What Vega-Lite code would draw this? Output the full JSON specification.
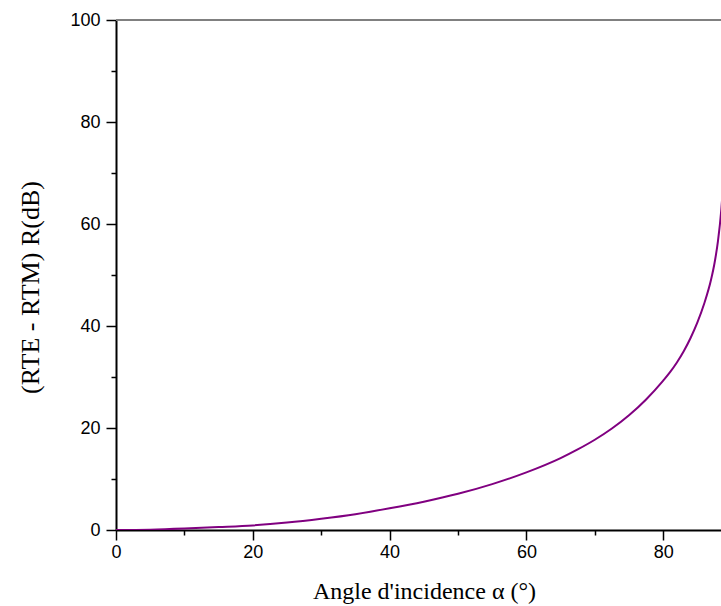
{
  "$schema": "https://vega.github.io/schema/vega-lite/v6.json",
  "autosize": "none",
  "width": 605,
  "height": 510,
  "padding": {"left": 116, "top": 20, "right": 0, "bottom": 76},
  "background": "white",
  "config": {"view": {"stroke": null}},
  "data": {"values": [
    {"angle": 0, "r": 0},
    {"angle": 5, "r": 0.07},
    {"angle": 10, "r": 0.28},
    {"angle": 15, "r": 0.57},
    {"angle": 20, "r": 0.9},
    {"angle": 25, "r": 1.45},
    {"angle": 30, "r": 2.2},
    {"angle": 35, "r": 3.1},
    {"angle": 40, "r": 4.25},
    {"angle": 45, "r": 5.55},
    {"angle": 50, "r": 7.1},
    {"angle": 55, "r": 9.0},
    {"angle": 60, "r": 11.3},
    {"angle": 65, "r": 14.1},
    {"angle": 67.5, "r": 15.8},
    {"angle": 70, "r": 17.7},
    {"angle": 72.5, "r": 19.9},
    {"angle": 75, "r": 22.5},
    {"angle": 77.5, "r": 25.6},
    {"angle": 80, "r": 29.3},
    {"angle": 81, "r": 30.95},
    {"angle": 82, "r": 32.85},
    {"angle": 83, "r": 35.05},
    {"angle": 84, "r": 37.65},
    {"angle": 85, "r": 40.7},
    {"angle": 86, "r": 44.4},
    {"angle": 87, "r": 49.1},
    {"angle": 87.5, "r": 52.3},
    {"angle": 88, "r": 56.6},
    {"angle": 88.5, "r": 62.9},
    {"angle": 89, "r": 72.9}
  ]},
  "resolve": {"axis": {"x": "independent", "y": "independent"}},
  "layer": [
    {
      "mark": {"type": "rule", "color": "#808080", "strokeWidth": 1.5},
      "encoding": {"y": {"datum": 100, "type": "quantitative", "scale": {"domain": [0, 100]}, "axis": null}}
    },
    {
      "mark": {"type": "line", "color": "#800080", "strokeWidth": 2, "clip": true, "interpolate": "monotone"},
      "encoding": {
        "x": {"field": "angle", "type": "quantitative", "scale": {"domain": [0, 88.45], "nice": false},
          "axis": {"orient": "bottom", "values": [0, 20, 40, 60, 80], "title": "Angle d'incidence α (°)",
            "grid": false, "tickSize": 10, "tickWidth": 1.5, "tickColor": "black", "domainColor": "black", "domainWidth": 2,
            "labelFont": "Liberation Sans", "labelFontSize": 18, "labelColor": "black", "labelPadding": 3, "labelFlush": false,
            "titleFont": "Liberation Serif", "titleFontSize": 24, "titleFontWeight": "normal", "titleColor": "black",
            "titleX": 308, "titleY": 68, "titleBaseline": "alphabetic", "titleAnchor": "middle"}},
        "y": {"field": "r", "type": "quantitative", "scale": {"domain": [0, 100], "nice": false},
          "axis": {"orient": "left", "values": [0, 20, 40, 60, 80, 100], "title": "(RTE - RTM) R(dB)",
            "grid": false, "tickSize": 10, "tickWidth": 1.5, "tickColor": "black", "domainColor": "black", "domainWidth": 2,
            "labelFont": "Liberation Sans", "labelFontSize": 18, "labelColor": "black", "labelPadding": 6, "labelFlush": false,
            "titleFont": "Liberation Serif", "titleFontSize": 26, "titleFontWeight": "normal", "titleColor": "black",
            "titleX": -78, "titleY": 267, "titleBaseline": "alphabetic", "titleAngle": -90, "titleAnchor": "middle"}}
      }
    },
    {
      "mark": {"type": "line", "opacity": 0},
      "encoding": {
        "x": {"field": "angle", "type": "quantitative",
          "axis": {"orient": "bottom", "values": [10, 30, 50, 70], "title": null, "labels": false, "domain": false,
            "grid": false, "tickSize": 5, "tickWidth": 1.5, "tickColor": "black"}},
        "y": {"field": "r", "type": "quantitative",
          "axis": {"orient": "left", "values": [10, 30, 50, 70, 90], "title": null, "labels": false, "domain": false,
            "grid": false, "tickSize": 5, "tickWidth": 1.5, "tickColor": "black"}}
      }
    }
  ]
}
